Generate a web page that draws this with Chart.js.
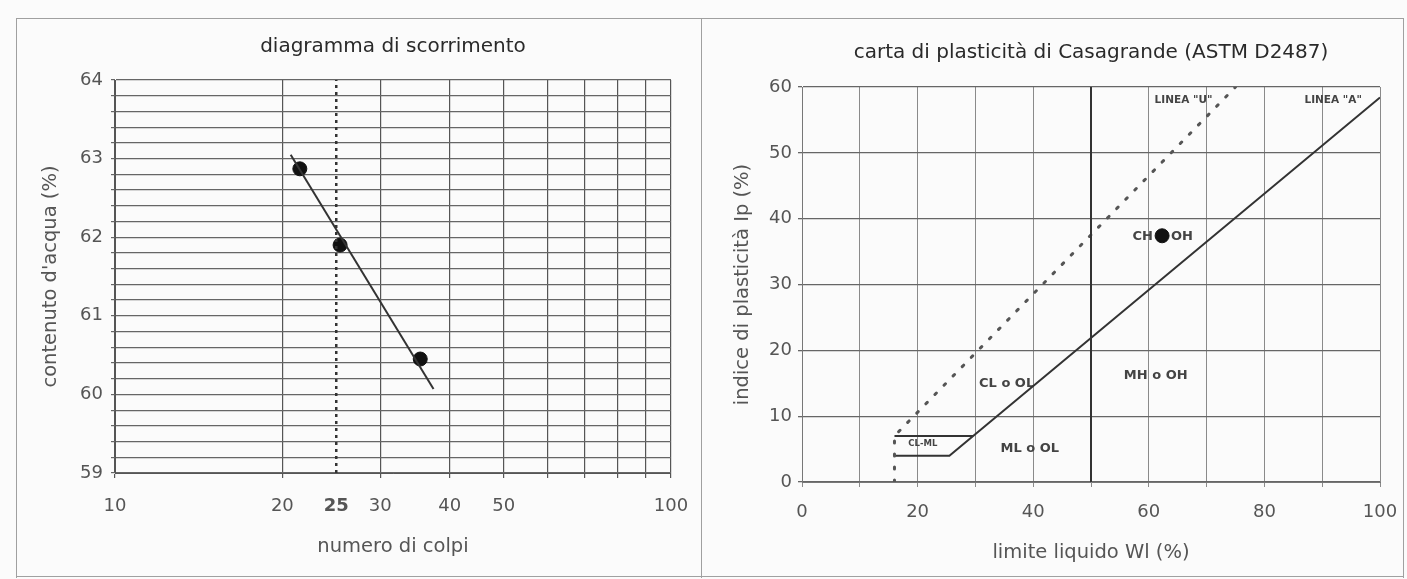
<!DOCTYPE html>
<html>
<head>
<meta charset="utf-8">
<script src="https://cdn.jsdelivr.net/npm/chart.js@4.4.1/dist/chart.umd.min.js"></script>
<style>
  body { margin: 0; background: #fbfbfb; }
  #sheet { position: relative; width: 1407px; height: 579px; overflow: hidden; }
  .rule { position: absolute; background: #a0a0a0; }
  canvas { position: absolute; top: 0; }
</style>
</head>
<body>
<div id="sheet">
  <div class="rule" style="left:16px;top:18px;width:1388px;height:1px"></div>
  <div class="rule" style="left:16px;top:18px;width:1px;height:560px"></div>
  <div class="rule" style="left:701px;top:18px;width:1px;height:560px"></div>
  <div class="rule" style="left:1403px;top:18px;width:1px;height:560px"></div>
  <div class="rule" style="left:16px;top:576px;width:1388px;height:1px"></div>
  <canvas id="flow" width="700" height="579" style="left:0"></canvas>
  <canvas id="casa" width="705" height="579" style="left:702px"></canvas>
</div>
<script>
// diagramma di scorrimento
const blowCounts = [21.5, 25.4, 35.4];
const waterContent = [62.87, 61.9, 60.45];
const flowLineBlows = [20.7, 37.4];
const flowLineWater = [63.05, 60.07];
const refBlows = [25, 25];
const refWater = [59, 64];
const blowTicks = [10, 20, 25, 30, 40, 50, 60, 70, 80, 90, 100];
const blowTickLabels = ['10', '20', '25', '30', '40', '50', '', '', '', '', '100'];
const waterTickLabels = [59, 60, 61, 62, 63, 64];

// carta di plasticità
const liquidLimit = [62.3];
const plasticityIndex = [37.4];
const uLineLL = [16, 16, 75];
const uLinePI = [0, 7, 60];
const aLineLL = [16, 25.5, 100];
const aLinePI = [4, 4, 58.4];
const clmlLL = [16, 29.6];
const clmlPI = [7, 7];
const boundLL = [50, 50];
const boundPI = [0, 60];
const llTickLabels = [0, 20, 40, 60, 80, 100];
const piTickLabels = [0, 10, 20, 30, 40, 50, 60];
const zoneLabels = ['LINEA "U"', 'LINEA "A"', 'CH o OH', 'CL o OL', 'MH o OH', 'ML o OL', 'CL-ML'];
const zoneLabelLL = [66, 91.9, 62.4, 35.4, 61.2, 39.4, 20.9];
const zoneLabelPI = [58, 58, 37.2, 14.9, 16.2, 5.0, 5.8];

const FONT = '"DejaVu Sans", sans-serif';
const TEXT = '#555';

function pts(xs, ys) {
  return xs.map((v, i) => ({ x: v, y: ys[i] }));
}

// keep the plot edge where the layout padding puts it
function fixX(h) {
  return s => { s.height = h; s.paddingLeft = 0; s.paddingRight = 0; };
}

new Chart(document.getElementById('flow'), {
  type: 'scatter',
  data: {
    datasets: [
      { data: pts(refBlows, refWater), showLine: true, pointRadius: 0,
        borderColor: '#333', borderWidth: 2.5, borderDash: [3, 4] },
      { data: pts(flowLineBlows, flowLineWater), showLine: true, pointRadius: 0,
        borderColor: '#333', borderWidth: 2 },
      { data: pts(blowCounts, waterContent), pointRadius: 7,
        backgroundColor: '#111', borderColor: '#111' }
    ]
  },
  options: {
    responsive: false,
    animation: false,
    layout: { padding: { left: 0, right: 29, top: 0, bottom: 0 } },
    plugins: {
      legend: { display: false },
      tooltip: { enabled: false },
      title: {
        display: true, fullSize: false, text: 'diagramma di scorrimento', color: '#2a2a2a',
        font: { family: FONT, size: 20, weight: 'normal' }, padding: { top: 35, bottom: 21 }
      }
    },
    scales: {
      x: {
        type: 'logarithmic', min: 10, max: 100,
        afterBuildTicks: s => { s.ticks = blowTicks.map(v => ({ value: v })); },
        afterFit: fixX(106),
        grid: { color: c => (c.tick && c.tick.value === 25) ? 'rgba(0,0,0,0)' : '#555',
                lineWidth: 1.2, tickLength: 5 },
        border: { color: '#555' },
        ticks: {
          autoSkip: false, maxRotation: 0, padding: 18, color: TEXT,
          callback: (v, i) => blowTickLabels[i],
          font: c => ({ family: FONT, size: 18, weight: (c.tick && c.tick.value === 25) ? 'bold' : 'normal' })
        },
        title: { display: true, text: 'numero di colpi', color: TEXT,
                 font: { family: FONT, size: 19.5 }, padding: { top: 0, bottom: 20 } }
      },
      y: {
        min: 59, max: 64,
        afterFit: s => { s.width = 115; },
        grid: { color: '#666', lineWidth: 1.2, tickLength: 4 },
        border: { color: '#555' },
        ticks: {
          stepSize: 0.2, autoSkip: false, padding: 8, color: TEXT,
          font: { family: FONT, size: 18 },
          callback: v => {
            const t = waterTickLabels.find(w => Math.abs(w - v) < 1e-6);
            return t === undefined ? '' : String(t);
          }
        },
        title: { display: true, text: "contenuto d'acqua (%)", color: TEXT,
                 font: { family: FONT, size: 19.5 }, padding: { top: 39, bottom: 0 } }
      }
    }
  }
});

const zoneLabelPlugin = {
  id: 'zoneLabels',
  beforeDatasetsDraw(chart) {
    const { ctx, scales: { x, y } } = chart;
    ctx.save();
    ctx.fillStyle = '#444';
    ctx.textAlign = 'center';
    ctx.textBaseline = 'middle';
    zoneLabels.forEach((t, i) => {
      let size = 13;
      if (t.startsWith('LINEA')) size = 10.5;
      if (t === 'CL-ML') size = 8.5;
      ctx.font = '600 ' + size + 'px ' + FONT;
      ctx.fillText(t, x.getPixelForValue(zoneLabelLL[i]), y.getPixelForValue(zoneLabelPI[i]));
    });
    ctx.restore();
  }
};

new Chart(document.getElementById('casa'), {
  type: 'scatter',
  data: {
    datasets: [
      { data: pts(boundLL, boundPI), showLine: true, pointRadius: 0,
        borderColor: '#333', borderWidth: 2 },
      { data: pts(uLineLL, uLinePI), showLine: true, pointRadius: 0,
        borderColor: '#555', borderWidth: 3, borderDash: [2, 11], borderCapStyle: 'round' },
      { data: pts(aLineLL, aLinePI), showLine: true, pointRadius: 0,
        borderColor: '#333', borderWidth: 2 },
      { data: pts(clmlLL, clmlPI), showLine: true, pointRadius: 0,
        borderColor: '#333', borderWidth: 2 },
      { data: pts(liquidLimit, plasticityIndex), pointRadius: 7,
        backgroundColor: '#111', borderColor: '#111' }
    ]
  },
  plugins: [zoneLabelPlugin],
  options: {
    responsive: false,
    animation: false,
    layout: { padding: { left: 0, right: 27, top: 0, bottom: 0 } },
    plugins: {
      legend: { display: false },
      tooltip: { enabled: false },
      title: {
        display: true, fullSize: false, text: 'carta di plasticità di Casagrande (ASTM D2487)', color: '#2a2a2a',
        font: { family: FONT, size: 20, weight: 'normal' }, padding: { top: 41, bottom: 22 }
      }
    },
    scales: {
      x: {
        type: 'linear', min: 0, max: 100,
        afterFit: fixX(97),
        grid: { color: '#8a8a8a', lineWidth: 1, tickLength: 5 },
        border: { color: '#777' },
        ticks: {
          stepSize: 10, autoSkip: false, maxRotation: 0, padding: 15, color: TEXT,
          font: { family: FONT, size: 18 },
          callback: v => llTickLabels.includes(v) ? String(v) : ''
        },
        title: { display: true, text: 'limite liquido Wl (%)', color: TEXT,
                 font: { family: FONT, size: 19.5 }, padding: { top: 0, bottom: 14 } }
      },
      y: {
        min: 0, max: 60,
        afterFit: s => { s.width = 100; },
        grid: { color: '#666', lineWidth: 1.3, tickLength: 4 },
        border: { color: '#777' },
        ticks: {
          stepSize: 10, autoSkip: false, padding: 6, color: TEXT,
          font: { family: FONT, size: 18 },
          callback: v => piTickLabels.includes(v) ? String(v) : ''
        },
        title: { display: true, text: 'indice di plasticità Ip (%)', color: TEXT,
                 font: { family: FONT, size: 19.5 }, padding: { top: 29, bottom: 0 } }
      }
    }
  }
});
</script>
</body>
</html>
